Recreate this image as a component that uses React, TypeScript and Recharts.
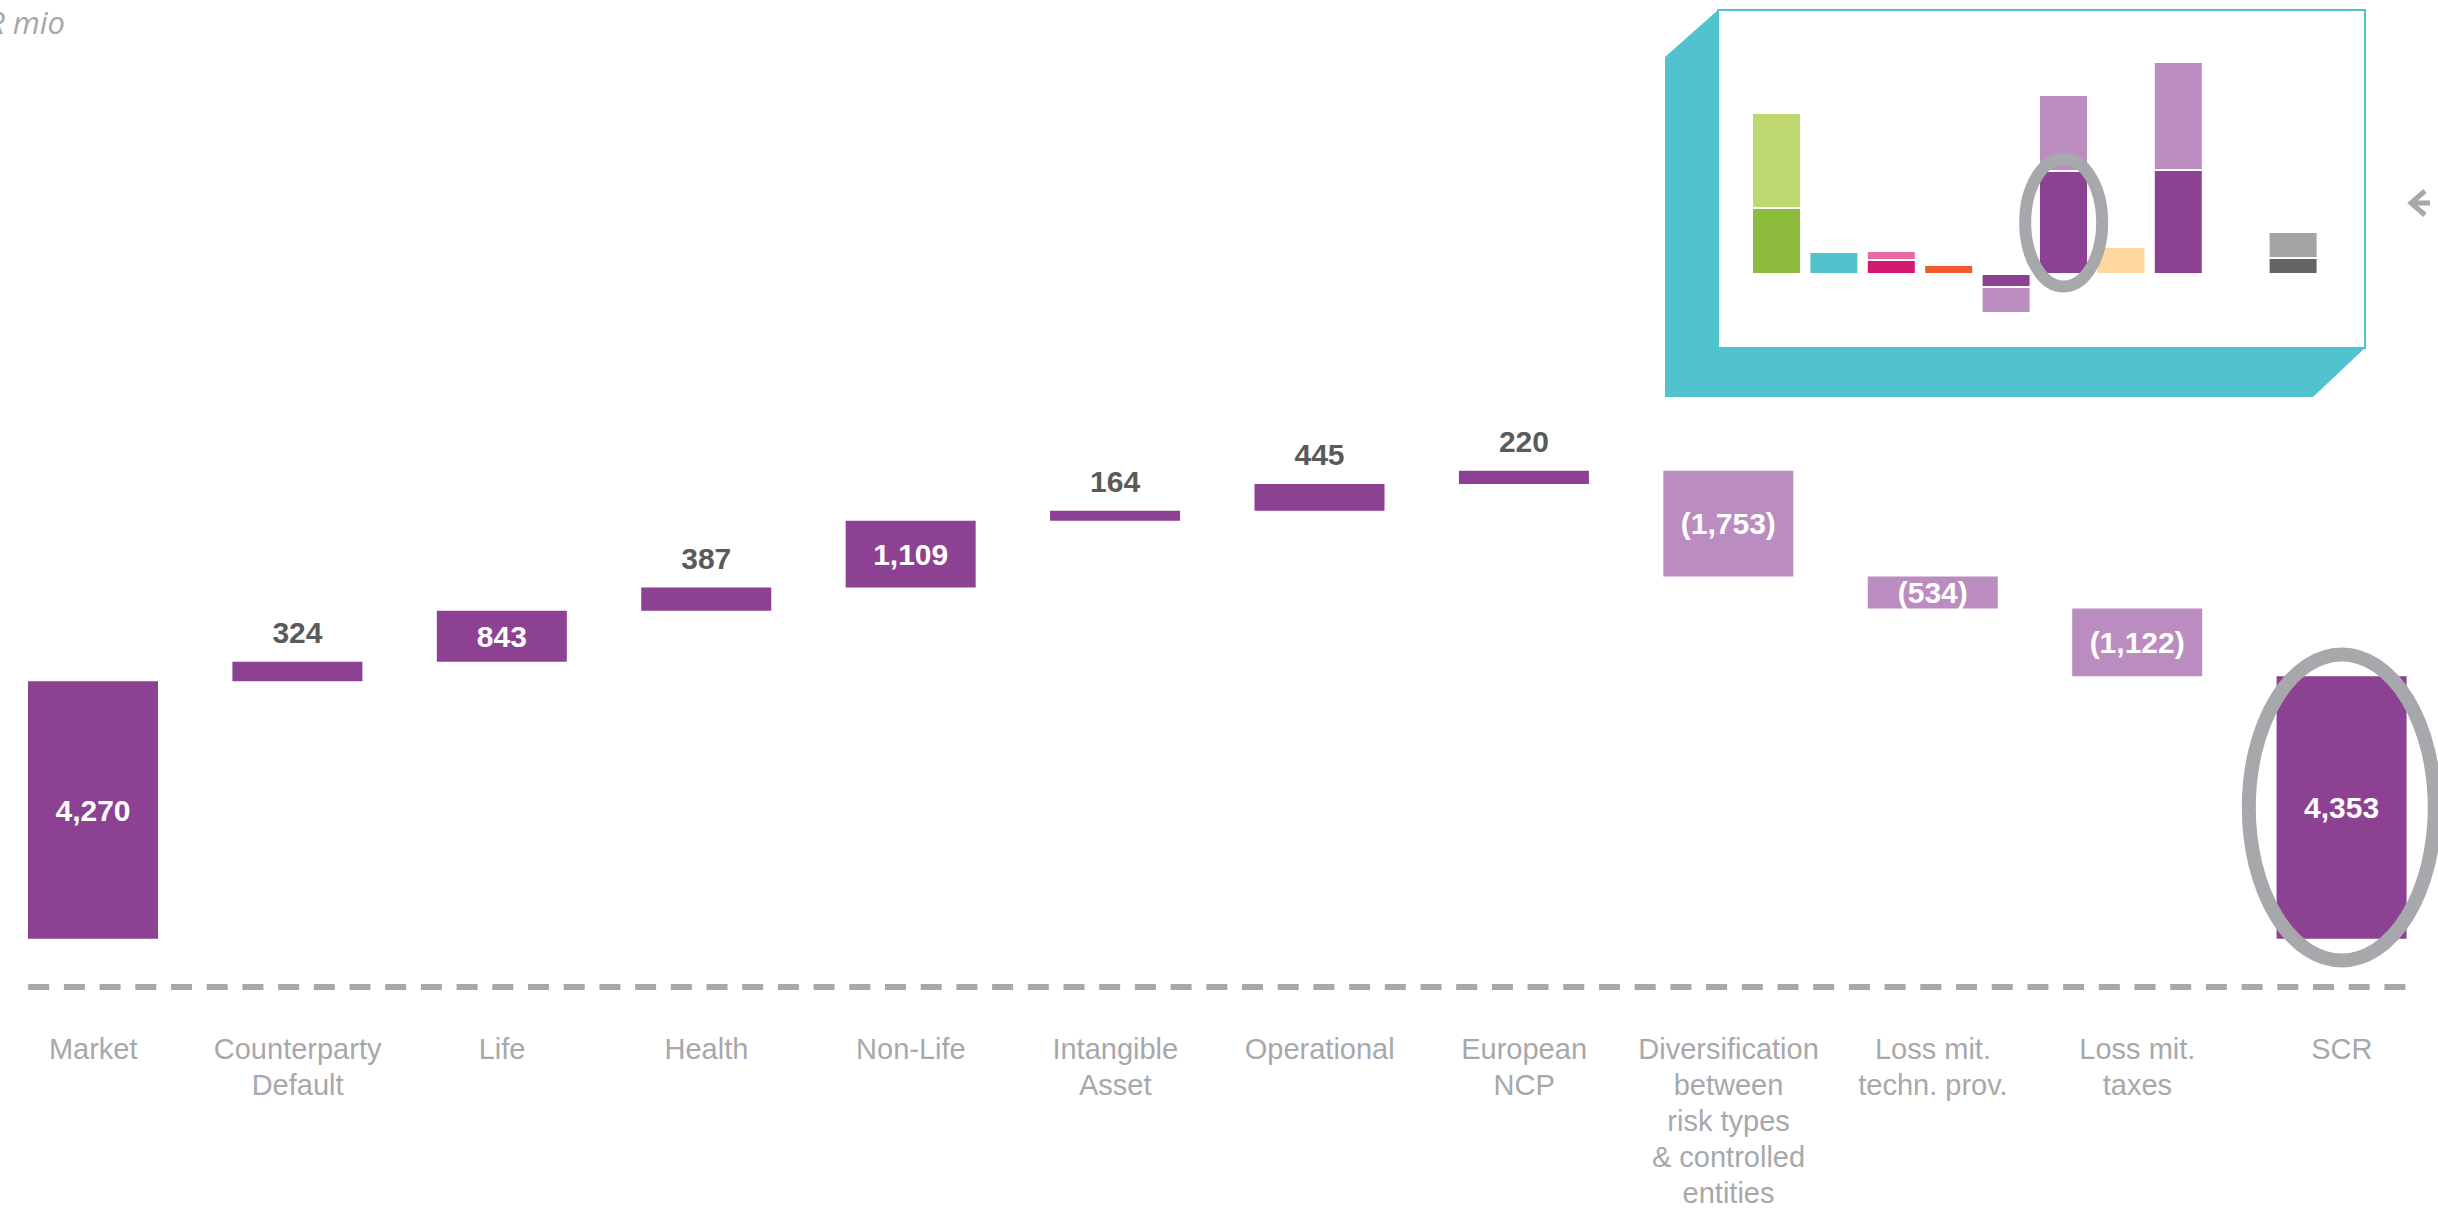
import { BarChart, Bar, XAxis, YAxis, Cell, LabelList, ReferenceLine, ReferenceDot } from "recharts";

// Waterfall: SCR-Zusammensetzung (EUR mio)
const categories = [
  "Market",
  "Counterparty Default",
  "Life",
  "Health",
  "Non-Life",
  "Intangible Asset",
  "Operational",
  "European NCP",
  "Diversification between risk types & controlled entities",
  "Loss mit. techn. prov.",
  "Loss mit. taxes",
  "SCR",
];

const tickLabels = [
  ["Market"],
  ["Counterparty", "Default"],
  ["Life"],
  ["Health"],
  ["Non-Life"],
  ["Intangible", "Asset"],
  ["Operational"],
  ["European", "NCP"],
  ["Diversification", "between", "risk types", "& controlled", "entities"],
  ["Loss mit.", "techn. prov."],
  ["Loss mit.", "taxes"],
  ["SCR"],
];

const contributions = [4270, 324, 843, 387, 1109, 164, 445, 220, -1753, -534, -1122, 4353];
const isTotal = [true, false, false, false, false, false, false, false, false, false, false, true];

const insetSlots = ["s1", "s2", "s3", "s4", "s5", "s6", "s7", "s8", "s9", "s10"];
const insetDark = [66, 22, 14, 9, -13, 103, 27, 104, 0, 16];
const insetLight = [95, 0, 9, 0, -26, 76, 0, 108, 0, 26];
const insetDarkColors = ["#8DBB3C", "#50C3CF", "#D4186F", "#F15A2B", "#8C4192", "#8C4192", "#FFD6A0", "#8C4192", "#ffffff", "#646464"];
const insetLightColors = ["#BED76F", "#50C3CF", "#E46BA5", "#F15A2B", "#BB8CC0", "#BB8CC0", "#FFD6A0", "#BB8CC0", "#ffffff", "#A3A3A3"];

const PURPLE = "#8C4192";
const LILAC = "#BB8CC0";
const GREY = "#A7A8AB";
const CYAN = "#50C3CF";
const FONT = "'Liberation Sans', Arial, sans-serif";

const CHART_W = 2453;
const BAR_SIZE = 130;
const EDGE = (CHART_W / categories.length - BAR_SIZE) / 2;

function buildRows() {
  let running = 0;
  return categories.map((name, i) => {
    const v = contributions[i];
    if (isTotal[i]) {
      running = v;
      return { name, base: 0, bar: v, value: v };
    }
    const start = running;
    running += v;
    return { name, base: Math.min(start, running), bar: Math.abs(v), value: v };
  });
}

const rows = buildRows();
const insetRows = insetSlots.map((slot, i) => ({ slot, dark: insetDark[i], light: insetLight[i] }));

function fmt(v: number) {
  const s = Math.abs(v).toLocaleString("en-US");
  return v < 0 ? `(${s})` : s;
}

function ValueLabel(props: any) {
  const vb = props.viewBox ?? props;
  const { x, y, width, height } = vb;
  const v = Number(props.value);
  const inside = v < 0 || v >= 800;
  return (
    <text
      x={x + width / 2}
      y={inside ? y + height / 2 + 10.5 : y - 19}
      textAnchor="middle"
      fill={inside ? "#ffffff" : "#5A5A5A"}
      fontFamily={FONT}
      fontSize={30}
      fontWeight="bold"
    >
      {fmt(v)}
    </text>
  );
}

function CategoryTick(props: any) {
  const { x, y, index } = props;
  const lines = tickLabels[index] ?? [];
  return (
    <text x={x} y={y + 72} textAnchor="middle" fill={GREY} fontFamily={FONT} fontSize={29}>
      {lines.map((l, i) => (
        <tspan key={i} x={x} dy={i === 0 ? 0 : 36}>
          {l}
        </tspan>
      ))}
    </text>
  );
}

function DashedBase(props: any) {
  const { x1, y1, x2, y2 } = props;
  return (
    <line
      x1={x1 + EDGE}
      y1={y1}
      x2={x2 - EDGE}
      y2={y2}
      stroke={GREY}
      strokeWidth={6}
      strokeDasharray="21 14.7"
    />
  );
}

function Ring(rx: number, ry: number, w: number) {
  return (props: any) => (
    <ellipse cx={props.cx} cy={props.cy} rx={rx} ry={ry} fill="none" stroke={GREY} strokeWidth={w} />
  );
}

export default function App() {
  return (
    <div style={{ position: "absolute", left: 0, top: 0, width: 2438, height: 1214, overflow: "hidden", background: "#fff" }}>
      <div style={{ position: "absolute", left: -9, top: 0 }}>
        <BarChart width={CHART_W} height={1214} data={rows} margin={{ top: 396, right: 0, bottom: 0, left: 0 }} barSize={BAR_SIZE}>
          <XAxis
            dataKey="name"
            height={227}
            axisLine={false}
            tickLine={false}
            tickSize={0}
            tickMargin={0}
            interval={0}
            tick={<CategoryTick />}
          />
          <YAxis hide domain={[-800, 9000]} />
          <ReferenceLine y={-800} shape={<DashedBase />} />
          <Bar dataKey="base" stackId="w" fill="transparent" isAnimationActive={false} />
          <Bar dataKey="bar" stackId="w" isAnimationActive={false}>
            {rows.map((r, i) => (
              <Cell key={i} fill={r.value < 0 ? LILAC : PURPLE} />
            ))}
            <LabelList dataKey="value" content={ValueLabel} />
          </Bar>
          <ReferenceDot
            x="SCR"
            y={contributions[contributions.length - 1] / 2}
            r={10}
            shape={Ring(93, 153, 14)}
          />
        </BarChart>
      </div>

      <svg width={2438} height={1214} style={{ position: "absolute", left: 0, top: 0, pointerEvents: "none" }}>
        <polygon points="1718,10 1665,57 1665,397 2313,397 2365,348 1718,348" fill={CYAN} />
        <rect x={1718} y={10} width={647} height={338} fill="#ffffff" stroke={CYAN} strokeWidth={2} />
        <text x={65} y={34} textAnchor="end" fill={GREY} fontFamily="'Open Sans', sans-serif" fontStyle="italic" fontSize={31}>
          EUR mio
        </text>
        <path d="M2425 191 L2411 203 L2425 215 M2411 203 L2430 203" fill="none" stroke={GREY} strokeWidth={5} />
      </svg>

      <div style={{ position: "absolute", left: 1748, top: 34 }}>
        <BarChart width={574} height={310} data={insetRows} margin={{ top: 0, right: 0, bottom: 0, left: 0 }} barSize={49} stackOffset="sign">
          <XAxis dataKey="slot" hide />
          <YAxis hide domain={[-70, 240]} />
          <Bar dataKey="dark" stackId="i" stroke="#ffffff" strokeWidth={2} isAnimationActive={false}>
            {insetRows.map((_, i) => (
              <Cell key={i} fill={insetDarkColors[i]} />
            ))}
          </Bar>
          <Bar dataKey="light" stackId="i" stroke="#ffffff" strokeWidth={2} isAnimationActive={false}>
            {insetRows.map((_, i) => (
              <Cell key={i} fill={insetLightColors[i]} />
            ))}
          </Bar>
          <ReferenceDot x="s6" y={insetDark[5] / 2} r={10} shape={Ring(38.5, 64, 12)} />
        </BarChart>
      </div>
    </div>
  );
}
